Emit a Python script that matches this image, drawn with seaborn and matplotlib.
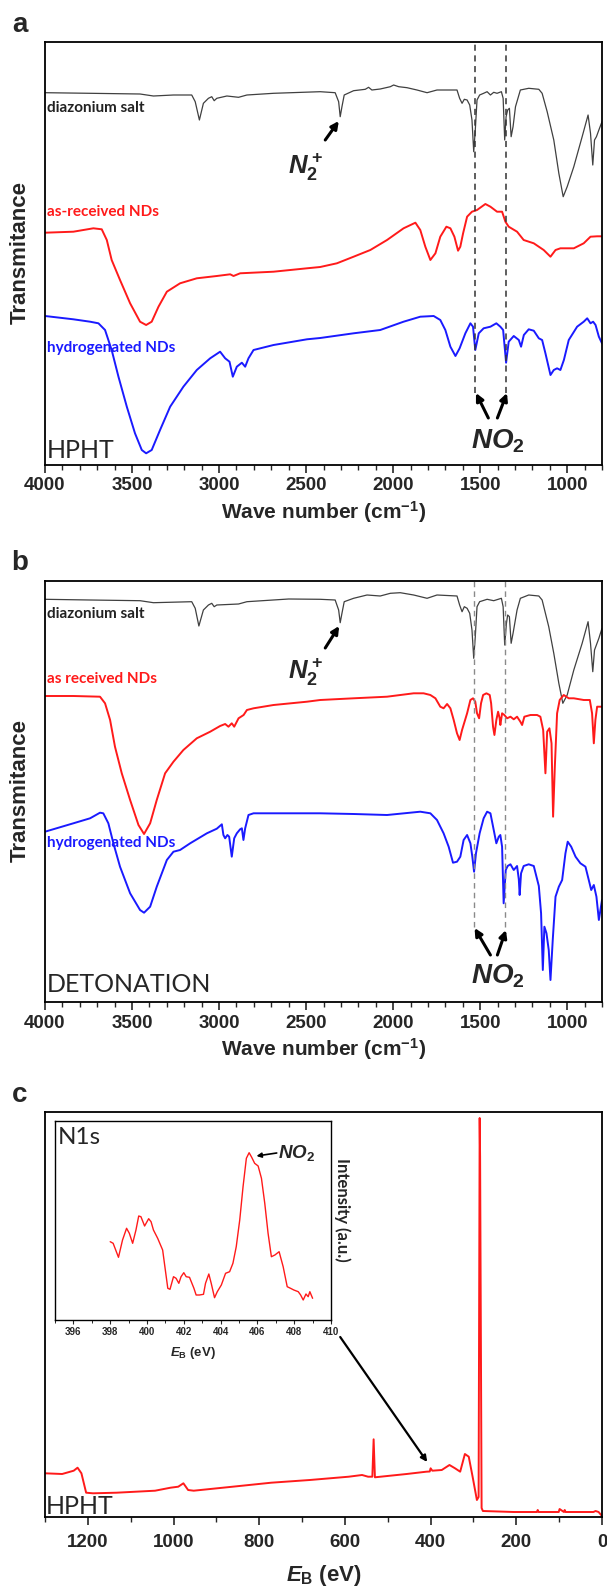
import matplotlib
matplotlib.use("Agg")
import matplotlib.pyplot as plt
from matplotlib.ticker import MultipleLocator
import seaborn as sns

# FTIR panel a (HPHT): (wave number cm-1, transmittance a.u.)
a_diazo = [(4000, 372.3), (3741, 371.7), (3454, 371), (3377, 369), (3262, 370), (3157, 370), (3137, 363.3),
           (3113, 345), (3090, 361.7), (3061, 366.7), (3042, 368.3), (3028, 364.3), (3013, 366.7), (2955, 369),
           (2888, 367.7), (2840, 370), (2687, 371.7), (2419, 373.3), (2333, 372.3), (2313, 363.3), (2304, 348.3),
           (2294, 358.3), (2281, 370), (2227, 374.3), (2160, 375.7), (2141, 377.7), (2122, 375), (2074, 376),
           (2016, 378.3), (1997, 380), (1968, 378.3), (1920, 377.3), (1863, 375), (1805, 372.3), (1748, 375),
           (1633, 375), (1618, 366.7), (1604, 361.7), (1591, 365.7), (1575, 365), (1560, 360), (1547, 345),
           (1537, 313.3), (1528, 335), (1518, 365), (1503, 370), (1480, 371.7), (1460, 373.3), (1441, 370),
           (1422, 372.7), (1403, 371.7), (1378, 373.3), (1368, 366.7), (1359, 325), (1351, 348.3), (1342, 355),
           (1332, 356.7), (1322, 328.3), (1311, 338.3), (1297, 358.3), (1269, 375), (1221, 376.7), (1163, 375.7),
           (1144, 371.7), (1115, 353.3), (1077, 325), (1048, 291.7), (1023, 268.3), (1000, 278.3), (962, 298.3),
           (914, 328.3), (880, 350), (866, 331.7), (853, 300), (843, 325), (832, 328.3), (818, 335), (800, 343.3)]
a_asrec = [(4000, 232.3), (3837, 233.3), (3722, 236.7), (3674, 235.7), (3645, 225), (3617, 205), (3569, 185),
           (3511, 161.7), (3454, 143.3), (3419, 140), (3387, 143.3), (3348, 158.3), (3300, 173.3), (3224, 181.7),
           (3128, 186.7), (3013, 189), (2936, 190.7), (2917, 189), (2879, 191.7), (2687, 193.3), (2495, 196.7),
           (2419, 198), (2323, 201.7), (2227, 208.3), (2131, 215), (2035, 225), (1940, 236.7), (1872, 242.3),
           (1844, 235), (1815, 218.3), (1786, 205), (1757, 211.7), (1729, 228.3), (1694, 238.3), (1671, 236.7),
           (1648, 228.3), (1627, 214.3), (1614, 218.3), (1598, 231.7), (1575, 248.3), (1547, 253.3), (1518, 255),
           (1470, 261), (1441, 258.3), (1403, 253.3), (1374, 253.3), (1355, 243.3), (1336, 238.3), (1288, 233.3),
           (1250, 225), (1192, 221.7), (1135, 215), (1096, 208.3), (1067, 215), (1039, 216.7), (962, 216.7),
           (905, 221.7), (866, 228.3), (828, 228.7), (800, 228.7)]
a_hydro = [(4000, 149), (3837, 145.7), (3741, 143.3), (3693, 141.7), (3655, 135), (3617, 115), (3578, 88.3),
           (3530, 58.3), (3483, 31.7), (3444, 15), (3419, 11.7), (3387, 15), (3339, 35), (3281, 58.3),
           (3205, 78.3), (3128, 95), (3051, 106.7), (2994, 113.3), (2965, 106.7), (2940, 103.3), (2921, 88.3),
           (2898, 98.3), (2869, 102.3), (2850, 98.3), (2831, 106.7), (2802, 115), (2687, 120), (2495, 125.7),
           (2419, 127), (2227, 131.7), (2074, 135), (1940, 143.3), (1844, 148.3), (1767, 149), (1729, 145),
           (1700, 135), (1671, 118.3), (1642, 109), (1618, 116.7), (1585, 131.7), (1556, 141.7), (1541, 138.3),
           (1528, 115), (1508, 131.7), (1480, 136.7), (1441, 138.3), (1407, 141.7), (1384, 138.3), (1368, 135),
           (1351, 102.3), (1336, 123.3), (1307, 129), (1278, 125), (1265, 118.3), (1249, 130), (1221, 135.7),
           (1192, 134.3), (1163, 126.7), (1144, 125), (1125, 111.7), (1096, 90), (1077, 95), (1058, 96.7),
           (1039, 95), (1019, 105), (991, 125), (943, 138.3), (905, 143.3), (885, 146.7), (866, 141.7),
           (851, 143.3), (837, 140), (818, 128.3), (800, 121.7)]

# FTIR panel b (detonation)
b_diazo = [(4000, 402.7), (3741, 402), (3454, 401.3), (3377, 399.3), (3157, 400.3), (3137, 393.7), (3116, 376),
           (3090, 392), (3061, 397), (3042, 398.7), (3028, 395.3), (3013, 397), (2888, 398), (2840, 400.3),
           (2600, 403), (2419, 402.7), (2333, 402), (2313, 392), (2304, 379.3), (2294, 388.7), (2281, 400.3),
           (2227, 403.7), (2150, 407), (2074, 406), (2016, 408.7), (1959, 409.3), (1882, 407), (1805, 403.7),
           (1748, 407), (1633, 406), (1618, 397), (1604, 390.3), (1591, 395.3), (1575, 393.7), (1560, 388.7),
           (1547, 372), (1537, 343.7), (1528, 365.3), (1518, 395.3), (1503, 400.3), (1460, 402.7), (1422, 401.3),
           (1378, 403.7), (1368, 395.3), (1359, 357), (1349, 378.7), (1342, 387), (1332, 385.3), (1322, 358.7),
           (1311, 368.7), (1288, 392), (1269, 403.7), (1221, 407), (1163, 406), (1144, 402), (1106, 375.3),
           (1077, 348.7), (1048, 318.7), (1025, 298.7), (1000, 307), (962, 332), (914, 358.7), (880, 380.3),
           (866, 358.7), (853, 330.3), (843, 352), (818, 363.7), (800, 373.7)]
b_asrec = [(4000, 306), (3837, 306), (3684, 305.3), (3655, 298.7), (3626, 282), (3598, 255.3), (3559, 228.7),
           (3511, 202), (3463, 177), (3431, 168), (3396, 178.7), (3358, 202), (3310, 228.7), (3262, 240.3),
           (3205, 252), (3128, 263.7), (3051, 270.3), (2994, 276), (2965, 278), (2946, 275.3), (2927, 278.7),
           (2913, 275.3), (2888, 283.7), (2859, 287), (2840, 292), (2802, 293.7), (2687, 297), (2495, 300.3),
           (2419, 302), (2227, 303.7), (2035, 305.3), (1882, 308.7), (1825, 308.7), (1786, 307), (1757, 303.7),
           (1729, 295.3), (1710, 293.7), (1690, 298), (1671, 293.7), (1652, 282), (1633, 268.7), (1618, 262),
           (1604, 272), (1575, 288.7), (1556, 302), (1541, 303.7), (1528, 300.3), (1518, 288.7), (1506, 283.7),
           (1495, 298.7), (1483, 307), (1464, 308.7), (1445, 307), (1437, 298.7), (1426, 275.3), (1418, 267),
           (1407, 282), (1397, 290.3), (1388, 283.7), (1384, 277), (1374, 288.7), (1361, 287), (1345, 283.7),
           (1326, 285.3), (1307, 282.7), (1288, 285.3), (1269, 280.3), (1259, 277), (1246, 285.3), (1211, 287),
           (1173, 287), (1154, 285.3), (1138, 272), (1125, 228.7), (1115, 270.3), (1102, 273.7), (1090, 258.7),
           (1081, 185.3), (1071, 235.3), (1058, 288.7), (1043, 302), (1020, 307), (991, 303.7), (962, 303.7),
           (905, 302), (870, 302), (857, 288.7), (847, 258.7), (838, 282), (828, 295.3), (800, 295.3)]
b_hydro = [(4000, 170.3), (3837, 178.7), (3741, 183.7), (3684, 189.3), (3665, 188.7), (3636, 178.7),
           (3607, 158.7), (3569, 135.3), (3511, 108.7), (3454, 92), (3431, 89.3), (3396, 95.3), (3358, 115.3),
           (3300, 142), (3262, 150.3), (3224, 152), (3166, 158.7), (3070, 168.7), (3013, 173.3), (2984, 177.7),
           (2975, 167), (2965, 163.7), (2952, 167), (2942, 165.3), (2927, 145.3), (2913, 163.7), (2898, 168.7),
           (2879, 172.7), (2869, 173.7), (2860, 162), (2850, 173.7), (2831, 187), (2802, 188.7), (2419, 188.7),
           (2227, 188), (2035, 187), (1844, 190.3), (1786, 188.7), (1748, 182), (1710, 168.7), (1681, 155.3),
           (1656, 139.3), (1633, 140.3), (1614, 145.3), (1595, 162), (1575, 167), (1556, 158.7), (1545, 145.3),
           (1535, 130.3), (1524, 148.7), (1503, 168.7), (1480, 183.7), (1460, 190.3), (1441, 188.7), (1422, 172),
           (1407, 158.7), (1393, 165.3), (1384, 167), (1374, 155.3), (1365, 98.7), (1353, 132), (1342, 136),
           (1326, 137.7), (1307, 132), (1288, 136), (1278, 122.7), (1273, 107), (1265, 128.7), (1250, 136),
           (1221, 137.7), (1192, 136), (1163, 116), (1150, 88.7), (1140, 32), (1131, 75.3), (1119, 68.7),
           (1106, 52), (1096, 22), (1083, 62), (1067, 105.3), (1048, 115.3), (1029, 122), (1010, 148.7),
           (997, 160.3), (977, 155.3), (952, 145.3), (924, 138.7), (895, 135.3), (876, 122), (862, 112),
           (847, 117), (832, 105.3), (818, 82), (800, 102)]

# XPS survey (binding energy eV, intensity a.u.)
c_survey = [(1300, 43.7), (1260, 43), (1233, 46.3), (1224, 49.3), (1215, 43.7), (1204, 24.3), (1188, 23.7),
            (1133, 24.3), (1043, 26.3), (1007, 29.3), (989, 30.3), (977, 33.7), (966, 27), (953, 26.3),
            (862, 30.3), (772, 34.3), (682, 37), (591, 40.3), (560, 42), (546, 40.3), (536, 40.3), (533, 77.7),
            (530, 39.7), (501, 41), (456, 43), (410, 45.3), (402, 45.5), (400, 48.7), (396, 46.3), (374, 47),
            (356, 52), (343, 48.7), (331, 45.3), (320, 63), (311, 60.3), (302, 40.3), (292, 17), (288, 20),
            (285.5, 399), (284.5, 360), (281, 9), (278, 6), (206, 5), (152, 5), (150, 7), (148, 5), (101, 5),
            (99, 8), (89, 5), (87, 7), (85, 5), (20, 5), (15, 6), (8, 5), (0, 1)]
# XPS N1s inset
c_n1s = [(398.00, 78.3), (398.16, 76.7), (398.45, 62.7), (398.67, 80), (398.89, 91.7), (399.04, 86.7),
         (399.22, 76.7), (399.40, 90), (399.55, 104), (399.67, 103.3), (399.87, 94), (400.09, 101.3),
         (400.22, 98.3), (400.35, 90), (400.58, 81.7), (400.85, 70), (401.13, 31.7), (401.25, 30.7),
         (401.44, 43.3), (401.58, 41.7), (401.73, 36.7), (401.85, 43.3), (402.00, 47.3), (402.13, 43.3),
         (402.31, 42.7), (402.55, 31.7), (402.67, 25), (402.85, 25), (403.07, 25.7), (403.18, 36.7),
         (403.36, 46), (403.49, 36.7), (403.67, 22.3), (403.82, 28.3), (404.04, 35), (404.27, 46.7),
         (404.49, 48.3), (404.67, 56.7), (404.85, 73.3), (405.04, 100), (405.22, 133.3), (405.40, 161.7),
         (405.55, 167.3), (405.69, 162.7), (405.85, 156.7), (406.04, 154), (406.22, 141.7), (406.40, 116.7),
         (406.58, 86.7), (406.76, 63.3), (406.95, 65), (407.18, 68.3), (407.40, 53.3), (407.62, 33.3),
         (407.80, 31.7), (407.98, 30), (408.22, 28.3), (408.35, 25), (408.49, 20), (408.64, 26),
         (408.76, 23.3), (408.85, 28.3), (409.00, 21.7)]

ftir_ticks = [4000, 3500, 3000, 2500, 2000, 1500, 1000]
xps_ticks = [1200, 1000, 800, 600, 400, 200, 0]
n1s_ticks = [396, 398, 400, 402, 404, 406, 408, 410]

GREY, RED, BLUE = "#404040", "#ff1a1a", "#1a1aff"
W, H = 607, 1587

sns.set_theme(style="ticks")
plt.rcParams["font.family"] = ["Liberation Sans", "DejaVu Sans"]
plt.rcParams["mathtext.fontset"] = "custom"
plt.rcParams["mathtext.rm"] = "Liberation Sans:bold"
plt.rcParams["mathtext.it"] = "Liberation Sans:italic:bold"
plt.rcParams["mathtext.bf"] = "Liberation Sans:bold"
SOFT = ["Lato", "DejaVu Sans"]


def draw(ax, pairs, color, lw):
    x, y = zip(*pairs)
    sns.lineplot(x=list(x), y=list(y), ax=ax, color=color, linewidth=lw, sort=False, estimator=None)


def frame(ax, lw=1.3):
    for s in ax.spines.values():
        s.set_visible(True)
        s.set_color("black")
        s.set_linewidth(lw)
    ax.set_yticks([])
    ax.set_ylabel("")


def box(top, bottom, left=45, right=602):
    return [left / W, 1 - bottom / H, (right - left) / W, (bottom - top) / H]


def arrow(ax, start, end, lw=2.2, ms=11):
    ax.annotate("", xy=end, xytext=start,
                arrowprops=dict(arrowstyle="-|>", color="black", lw=lw, mutation_scale=ms, shrinkA=0, shrinkB=0))


fig = plt.figure(figsize=(W / 100, H / 100), dpi=100)
ax_a = fig.add_axes(box(42, 465))
ax_b = fig.add_axes(box(581, 1002))
ax_c = fig.add_axes(box(1112, 1517))
ax_in = fig.add_axes(box(1121, 1320, 55, 331))

# ---- FTIR panels ----
for ax, series, top, name, labels, ylab in [
    (ax_a, (a_diazo, a_asrec, a_hydro), 423, "HPHT",
     ((357, "diazonium salt"), (253, "as-received NDs"), (117, "hydrogenated NDs")), 253),
    (ax_b, (b_diazo, b_asrec, b_hydro), 421, "DETONATION",
     ((388, "diazonium salt"), (323, "as received NDs"), (159, "hydrogenated NDs")), 791)]:
    draw(ax, series[0], GREY, 0.9)
    draw(ax, series[1], RED, 1.4)
    draw(ax, series[2], BLUE, 1.4)
    ax.set_xlim(4000, 800)
    ax.set_ylim(0, top)
    frame(ax)
    ax.set_xticks(ftir_ticks, labels=[str(t) for t in ftir_ticks], fontsize=13.5, fontweight="bold")
    ax.xaxis.set_minor_locator(MultipleLocator(100))
    ax.tick_params(axis="x", which="major", direction="out", length=6, width=1.2, pad=3, bottom=True)
    ax.tick_params(axis="x", which="minor", direction="out", length=3.5, width=1, bottom=True)
    ax.set_xlabel("Wave number (cm$^{-1}$)", fontsize=15, fontweight="bold", labelpad=3)
    fig.text(20 / W, 1 - ylab / H, "Transmitance", rotation=90, ha="center", va="center",
             fontsize=16, fontweight="bold")
    for (yv, txt), col in zip(labels, ("#222222", RED, BLUE)):
        ax.text(3990, yv, txt, color=col, fontsize=11, fontweight="bold", family=SOFT, ha="left", va="center")
    ax.text(3988, 14 if ax is ax_a else 18, name, fontsize=18, family=SOFT, ha="left", va="center")

# panel a annotations
ax_a.vlines([1527, 1350], 72, 423, colors="#333333", linestyles=(0, (4, 3)), linewidth=1.1)
ax_a.text(2505, 298, "$N_2^+$", fontsize=18.5, ha="center", va="center")
arrow(ax_a, (2390, 325), (2312, 344))
ax_a.text(1401, 24, "$NO_2$", fontsize=20, ha="center", va="center")
arrow(ax_a, (1453, 47), (1524, 72))
arrow(ax_a, (1401, 47), (1346, 72))

# panel b annotations
ax_b.vlines([1535, 1355], 75, 421, colors="#8a8a8a", linestyles=(0, (4, 3)), linewidth=1.0)
ax_b.text(2505, 330, "$N_2^+$", fontsize=18.5, ha="center", va="center")
arrow(ax_b, (2390, 354), (2310, 376))
ax_b.text(1401, 26, "$NO_2$", fontsize=20, ha="center", va="center")
arrow(ax_b, (1441, 47), (1532, 74))
arrow(ax_b, (1401, 47), (1352, 72))

# ---- XPS survey ----
draw(ax_c, c_survey, RED, 1.4)
ax_c.set_xlim(1300, 0)
ax_c.set_ylim(0, 405)
frame(ax_c)
ax_c.set_xticks(xps_ticks, labels=[str(t) for t in xps_ticks], fontsize=13.5, fontweight="bold")
ax_c.xaxis.set_minor_locator(MultipleLocator(100))
ax_c.tick_params(axis="x", which="major", direction="out", length=6, width=1.2, pad=6, bottom=True)
ax_c.tick_params(axis="x", which="minor", direction="out", length=3.5, width=1, bottom=True)
ax_c.set_xlabel("$E_\\mathrm{B}$ (eV)", fontsize=16, fontweight="bold", labelpad=9)
ax_c.text(1298, 10, "HPHT", fontsize=18, family=SOFT, ha="left", va="center")
arrow(ax_c, (611, 180), (408, 55), lw=1.6, ms=9)

# ---- N1s inset ----
draw(ax_in, c_n1s, RED, 1.0)
ax_in.set_xlim(395, 410)
ax_in.set_ylim(0, 199)
frame(ax_in, 1.0)
ax_in.set_xticks(n1s_ticks, labels=[str(t) for t in n1s_ticks], fontsize=7, fontweight="bold")
ax_in.xaxis.set_minor_locator(MultipleLocator(1))
ax_in.tick_params(axis="x", which="major", direction="out", length=3, width=0.8, pad=2, bottom=True)
ax_in.tick_params(axis="x", which="minor", direction="out", length=2, width=0.7, bottom=True)
ax_in.set_xlabel("$E_\\mathrm{B}$ (eV)", fontsize=9.5, fontweight="bold", labelpad=6)
ax_in.text(395.15, 182, "N1s", fontsize=17.5, family=SOFT, ha="left", va="center")
ax_in.text(407.1, 167, "$NO_2$", fontsize=13.5, ha="left", va="center")
arrow(ax_in, (407.05, 167), (405.95, 164), lw=1.2, ms=7)
fig.text(342 / W, 1 - 1210 / H, "Intensity (a.u.)", rotation=270, ha="center", va="center",
         fontsize=12, fontweight="bold", family=SOFT)

for lab, yy in (("a", 25), ("b", 563), ("c", 1095)):
    fig.text(20 / W, 1 - yy / H, lab, ha="center", va="center", fontsize=20, fontweight="bold")

fig.savefig("out.png", dpi=100, facecolor="white")
